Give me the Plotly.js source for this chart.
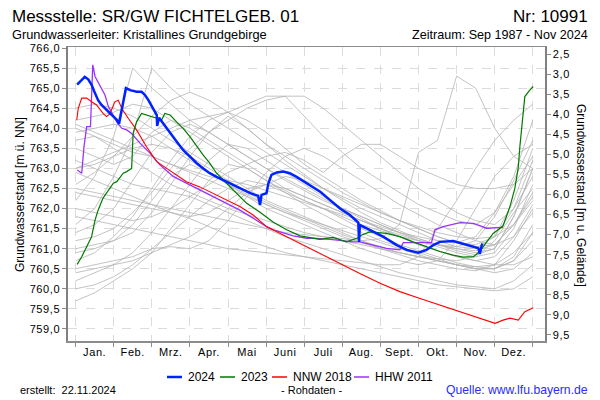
<!DOCTYPE html>
<html>
<head>
<meta charset="utf-8">
<script src="https://cdn.plot.ly/plotly-3.0.1.min.js"></script>
<style>
html,body{margin:0;padding:0;background:#fff;}
#chart{width:600px;height:400px;}
#chart .ytick text, #chart .y2tick text, #chart .xtick text { letter-spacing: 0.6px; }
</style>
</head>
<body>
<div id="chart"></div>
<script>
// ---- DATA (x in months since Jan 1, y in m ü. NN) ----
const monthLabels = ['Jan.','Feb.','Mrz.','Apr.','Mai','Juni','Juli','Aug.','Sept.','Okt.','Nov.','Dez.'];
const groundLevel = 768.35; // Geländehöhe (m ü. NN)

const x2024 = [0.04,0.24,0.33,0.42,0.51,0.59,0.68,0.81,0.94,1.08,1.14,1.21,1.29,1.32,1.43,1.60,1.73,1.82,1.91,2.04,2.13,2.14,2.19,2.30,2.48,2.65,2.82,3.00,3.18,3.35,3.52,3.70,3.87,4.05,4.23,4.40,4.57,4.71,4.79,4.84,4.88,5.01,5.06,5.14,5.28,5.45,5.62,5.80,5.97,6.15,6.42,6.68,6.94,7.20,7.29,7.42,7.44,7.46,7.72,8.07,8.43,8.69,8.99,9.21,9.39,9.56,9.91,10.17,10.44,10.57,10.61,10.66,10.68];
const y2024 = [765.09,765.28,765.22,765.08,764.87,764.70,764.58,764.46,764.33,764.21,764.11,764.46,764.95,765.00,764.95,764.91,764.91,764.83,764.70,764.50,764.33,764.06,764.26,764.12,763.88,763.67,763.46,763.29,763.13,763.00,762.88,762.79,762.71,762.63,762.54,762.46,762.39,762.34,762.32,762.09,762.34,762.38,762.63,762.84,762.90,762.92,762.88,762.79,762.69,762.59,762.42,762.21,762.00,761.84,761.76,761.65,761.17,761.59,761.47,761.30,761.09,760.97,760.90,760.97,761.09,761.17,761.19,761.13,761.05,761.01,760.87,761.09,761.13];

const x2023 = [0.04,0.16,0.29,0.42,0.51,0.59,0.72,0.86,0.99,1.08,1.25,1.34,1.47,1.51,1.60,1.73,1.86,2.04,2.17,2.26,2.34,2.48,2.65,2.82,3.00,3.18,3.35,3.52,3.70,3.96,4.23,4.49,4.84,5.19,5.54,5.89,6.41,6.76,7.11,7.38,7.51,7.72,8.16,8.51,8.86,9.21,9.56,9.91,10.17,10.44,10.61,10.79,10.96,11.22,11.40,11.53,11.62,11.66,11.71,11.75,11.79,11.92,12.01];
const y2023 = [760.61,760.80,761.05,761.30,761.71,761.96,762.26,762.46,762.63,762.67,762.88,762.92,763.00,763.88,764.16,764.37,764.33,764.29,764.25,764.21,764.37,764.33,764.16,764.00,763.79,763.54,763.33,763.13,762.88,762.63,762.38,762.13,761.91,761.66,761.47,761.32,761.23,761.28,761.17,761.26,761.34,761.42,761.38,761.30,761.17,761.05,760.93,760.84,760.79,760.80,760.93,761.17,761.38,761.57,762.05,762.51,763.04,763.54,764.04,764.46,764.79,764.95,765.04];

const xNNW2018 = [0.03,0.07,0.16,0.29,0.42,0.55,0.72,0.81,0.90,1.03,1.12,1.21,1.38,1.60,1.86,2.13,2.39,2.65,2.91,3.26,3.61,3.96,4.31,4.66,5.01,5.54,5.89,6.41,6.94,7.46,7.99,8.51,9.04,9.56,10.09,10.61,11.01,11.22,11.40,11.62,11.79,12.01];
const yNNW2018 = [764.21,764.50,764.75,764.75,764.66,764.58,764.37,764.29,764.36,764.66,764.70,764.50,764.25,763.96,763.54,763.17,763.00,762.84,762.67,762.54,762.38,762.21,762.05,761.84,761.55,761.30,761.13,760.88,760.63,760.38,760.14,759.93,759.76,759.60,759.43,759.27,759.14,759.22,759.27,759.22,759.43,759.53];

const xHHW2011 = [0.04,0.16,0.22,0.29,0.39,0.45,0.51,0.64,0.77,0.86,0.95,1.08,1.21,1.34,1.47,1.69,1.95,2.21,2.56,2.91,3.26,3.61,3.96,4.31,4.66,5.01,5.19,5.71,6.06,6.24,6.68,7.02,7.29,7.46,7.81,8.16,8.51,8.60,8.86,9.34,9.43,9.65,10.09,10.44,10.79,11.14,11.22];
const yHHW2011 = [762.96,762.88,763.54,764.04,764.04,765.58,765.29,765.04,764.83,764.54,764.37,764.16,764.00,763.96,763.87,763.63,763.38,763.09,762.80,762.63,762.46,762.30,762.13,761.96,761.76,761.55,761.47,761.32,761.26,761.26,761.23,761.19,761.17,761.17,761.09,761.01,760.97,761.15,761.15,761.15,761.47,761.55,761.65,761.63,761.51,761.52,761.53];

// other years (1987–2022), half-month sampling
const xOther = [0,0.5,1,1.5,2,2.5,3,3.5,4,4.5,5,5.5,6,6.5,7,7.5,8,8.5,9,9.5,10,10.5,11,11.5,12];
const yOther = [
 [764.5,764.6,764.5,764.3,764.0,763.7,763.4,763.1,762.8,762.5,762.2,762.0,761.8,761.6,761.4,761.2,761.0,760.85,760.7,760.6,760.5,760.45,760.6,761.2,762.0],
 [764.2,764.3,764.4,764.6,764.5,764.2,763.9,763.6,763.3,763.0,762.7,762.45,762.2,762.0,761.8,761.6,761.45,761.3,761.2,761.1,761.0,760.9,761.0,761.8,763.0],
 [763.9,764.0,764.1,764.0,763.8,763.5,763.2,762.9,762.6,762.35,762.1,761.9,761.7,761.5,761.3,761.15,761.0,760.9,760.8,760.7,760.6,760.5,760.5,760.7,761.4],
 [763.7,763.8,763.6,763.4,763.3,763.1,762.9,762.7,762.5,762.3,762.1,761.9,761.75,761.6,761.45,761.3,761.15,761.0,760.85,760.7,760.6,760.5,760.4,760.5,760.9],
 [763.5,763.3,763.1,763.3,763.9,764.2,764.0,763.7,763.4,763.1,762.8,762.5,762.3,762.1,761.9,761.7,761.5,761.35,761.2,761.1,761.05,761.2,761.8,762.7,763.7],
 [763.2,763.0,762.8,762.6,762.5,762.4,762.3,762.1,761.9,761.7,761.5,761.3,761.15,761.0,760.85,760.7,760.55,760.4,760.3,760.2,760.1,760.05,760.0,760.2,760.6],
 [762.9,762.7,762.5,762.3,762.1,761.9,761.75,761.55,761.35,761.2,761.05,760.9,760.8,760.7,760.6,760.5,760.4,760.3,760.2,760.1,760.05,760.0,759.95,760.0,760.3],
 [764.1,763.9,763.7,763.5,763.3,763.1,762.95,762.8,762.7,762.6,762.45,762.3,762.15,762.0,761.85,761.7,761.55,761.4,761.3,761.2,761.15,761.3,761.9,762.6,763.3],
 [760.7,760.9,761.3,761.8,762.5,763.2,763.8,764.2,764.4,764.2,763.9,763.5,763.1,762.8,762.5,762.2,761.95,761.7,761.5,761.3,761.15,761.1,761.3,762.2,763.5],
 [760.2,760.4,760.6,760.9,761.4,762.0,762.6,763.2,763.6,763.5,763.2,762.9,762.6,762.3,762.0,761.75,761.5,761.3,761.1,760.95,760.8,760.7,760.8,761.3,762.1],
 [759.7,759.9,760.2,760.5,760.9,761.5,762.1,762.7,763.1,763.0,762.7,762.4,762.1,761.85,761.6,761.4,761.2,761.05,760.9,760.75,760.6,760.5,760.5,760.8,761.6],
 [761.6,762.0,762.8,763.8,765.5,765.0,764.6,764.3,764.0,763.7,763.4,763.1,762.8,762.5,762.25,762.0,761.8,761.6,761.4,761.2,761.05,761.0,761.3,762.0,763.2],
 [762.2,762.8,763.8,765.5,765.0,764.6,764.2,763.9,763.6,763.3,763.0,762.75,762.5,762.25,762.0,761.8,761.6,761.4,761.2,761.05,760.9,760.8,760.9,761.5,762.6],
 [760.5,760.6,760.7,760.8,761.0,761.05,761.0,761.2,761.7,762.3,762.9,763.3,763.5,763.3,763.0,762.7,762.4,762.1,761.85,761.6,761.4,761.2,761.1,761.3,761.9],
 [761.2,761.3,761.5,761.9,762.4,763.0,763.5,763.9,764.2,764.5,764.7,764.8,764.8,764.5,764.1,763.7,763.3,762.9,762.5,762.2,761.9,761.7,761.6,762.0,762.8],
 [760.0,760.1,760.3,760.6,761.0,761.4,761.8,762.2,762.5,762.7,762.6,762.4,762.2,762.0,761.75,761.5,761.3,761.1,760.95,760.8,760.65,760.55,760.5,760.7,761.2],
 [761.0,761.1,761.2,761.4,761.9,762.6,763.3,763.9,764.3,764.0,763.6,763.2,762.85,762.5,762.2,761.9,761.65,761.45,761.25,761.1,760.95,760.85,761.0,761.8,763.0],
 [762.6,762.9,763.3,763.8,764.3,764.7,764.9,764.7,764.4,764.0,763.6,763.3,763.0,762.7,762.4,762.15,761.9,761.7,761.5,761.3,761.15,761.05,761.1,761.6,762.4],
 [762.5,762.4,762.3,762.2,762.1,762.0,761.9,761.8,761.7,761.6,761.5,761.4,761.35,761.3,761.25,761.2,761.25,761.6,763.4,763.7,765.3,765.0,764.0,763.3,763.0],
 [762.0,761.9,761.8,761.7,761.8,762.0,762.3,762.6,762.9,763.1,763.3,763.4,763.2,762.9,763.3,763.6,763.6,763.3,763.0,762.8,762.6,762.5,762.5,762.6,763.0],
 [763.0,763.2,763.4,763.6,763.8,764.0,764.2,764.3,764.4,764.6,764.8,764.8,764.3,763.8,763.4,763.0,762.7,762.4,762.1,761.9,761.7,761.6,761.9,762.8,764.2],
 [761.8,761.7,761.6,761.5,761.4,761.3,761.2,761.1,761.0,760.95,760.9,760.85,760.8,760.75,760.7,760.65,760.6,760.6,760.8,761.5,762.2,763.0,763.7,764.2,764.6],
 [760.9,761.0,761.2,761.6,762.2,762.8,763.1,762.9,762.6,762.3,762.0,761.8,761.6,761.4,761.2,761.0,760.85,760.7,760.6,760.7,761.2,762.0,762.8,763.3,763.6],
 [763.0,763.1,763.3,763.5,763.6,763.5,763.3,763.0,762.7,762.4,762.15,761.95,761.75,761.55,761.35,761.2,761.05,760.9,760.8,760.7,760.6,760.55,760.6,760.9,761.4],
 [764.0,763.8,763.5,763.2,762.9,762.6,762.4,762.2,762.0,761.85,761.7,761.55,761.4,761.3,761.2,761.1,761.0,760.9,760.8,760.75,760.7,760.8,761.2,761.9,762.5],
 [760.4,760.5,760.6,760.7,760.9,761.1,761.3,761.6,762.0,762.4,762.6,762.5,762.3,762.1,761.9,761.7,761.5,761.3,761.1,760.95,760.8,760.7,760.6,760.6,760.8],
 [761.4,761.6,762.0,762.7,763.4,763.9,764.1,763.9,763.6,763.3,763.0,762.7,762.45,762.2,762.0,761.8,761.6,761.4,761.25,761.1,761.0,760.95,761.1,761.6,762.3],
 [762.4,762.3,762.2,762.1,762.0,761.9,761.8,761.9,762.2,762.5,762.6,762.8,762.7,762.5,762.3,762.1,761.9,761.7,761.55,761.4,761.3,761.25,761.3,761.6,762.2]
];

const leftTicks = [759,759.5,760,760.5,761,761.5,762,762.5,763,763.5,764,764.5,765,765.5,766];
const rightTicks = [2.5,3,3.5,4,4.5,5,5.5,6,6.5,7,7.5,8,8.5,9,9.5];

const legendNames = ['2024', '2023', 'NNW 2018', 'HHW 2011'];
const legendColors = ['#0022ff', '#007a00', '#ff0000', '#9933ff'];

// ---- LAYOUT GEOMETRY ----
const L = 68, R = 545, T = 47, B = 341;
const W = 600, H = 400;
const pxX = x => (x - L) / (R - L);
const pxY = y => (B - y) / (B - T);
const FONT = 'Liberation Sans, Arial, sans-serif';
const legendLineStart = [167, 220, 272, 354]; // pixel positions of legend entries
const legendRowY = 377;

const yLow = 758.70, yHigh = 766.025;

const traces = [];
yOther.forEach(function (ys) {
  traces.push({x: xOther, y: ys, type: 'scatter', mode: 'lines',
    line: {color: '#b4b4b4', width: 0.8}, showlegend: false, hoverinfo: 'skip'});
});
traces.push({x: xHHW2011, y: yHHW2011, name: 'HHW 2011', type: 'scatter', mode: 'lines',
  line: {color: legendColors[3], width: 1.3}, showlegend: false});
traces.push({x: xNNW2018, y: yNNW2018, name: 'NNW 2018', type: 'scatter', mode: 'lines',
  line: {color: legendColors[2], width: 1.1}, showlegend: false});
traces.push({x: x2023, y: y2023, name: '2023', type: 'scatter', mode: 'lines',
  line: {color: legendColors[1], width: 1.2}, showlegend: false});
traces.push({x: x2024, y: y2024, name: '2024', type: 'scatter', mode: 'lines',
  line: {color: legendColors[0], width: 2.5}, showlegend: false});
// invisible helper on the right axis so it is drawn
traces.push({x: [null], y: [null], yaxis: 'y2', showlegend: false, hoverinfo: 'skip', mode: 'lines'});

const monthCenters = monthLabels.map((m, i) => i + 0.5);
const monthBounds = Array.from({length: 13}, (_, i) => i);

const ann = (text, x, y, xa, extra) => Object.assign({
  text: text, xref: 'paper', yref: 'paper', x: pxX(x), y: pxY(y),
  xanchor: xa, yanchor: 'middle', showarrow: false,
  font: {family: FONT, size: 11, color: '#000'}
}, extra || {});

const annotations = [
  ann('Messstelle: SR/GW FICHTELGEB. 01', 10, 16, 'left', {font: {family: FONT, size: 17, color: '#000'}}),
  ann('Nr: 10991', 590, 16, 'right', {font: {family: FONT, size: 17, color: '#000'}}),
  ann('Grundwasserleiter: Kristallines Grundgebirge', 10, 35, 'left', {font: {family: FONT, size: 12.8, color: '#000'}}),
  ann('Zeitraum: Sep 1987 - Nov 2024', 590, 35, 'right', {font: {family: FONT, size: 12.6, color: '#000'}}),
  ann('Grundwasserstand [m ü. NN]', 20, 195, 'center', {textangle: -90, font: {family: FONT, size: 12, color: '#000'}}),
  ann('Grundwasserstand [m u. Gelände]', 581, 195, 'center', {textangle: 90, font: {family: FONT, size: 12, color: '#000'}}),
  ann('erstellt:\u00a0 22.11.2024', 18, 390, 'left'),
  ann('- Rohdaten -', 311, 390, 'center'),
  ann('Quelle: www.lfu.bayern.de', 590, 390, 'right', {font: {family: FONT, size: 12.2, color: '#2b2bff'}})
];
const shapes = [];
legendNames.forEach(function (name, i) {
  const x0 = legendLineStart[i];
  shapes.push({type: 'line', xref: 'paper', yref: 'paper', x0: pxX(x0), x1: pxX(x0 + 15),
    y0: pxY(legendRowY), y1: pxY(legendRowY), line: {color: legendColors[i], width: i === 0 ? 2.5 : 1.5}});
  annotations.push(ann(name, x0 + 19, legendRowY, 'left', {font: {family: FONT, size: 12, color: '#000'}}));
});

const layout = {
  width: W, height: H,
  margin: {l: L, r: W - R, t: T, b: H - B, pad: 0},
  paper_bgcolor: '#fff', plot_bgcolor: '#fff',
  separators: ',.',
  font: {family: FONT, size: 11, color: '#000'},
  showlegend: false,
  xaxis: {
    range: [-0.2, 12.32], tickmode: 'array', tickvals: monthCenters, ticktext: monthLabels,
    ticks: '', showgrid: false, zeroline: false,
    showline: true, linecolor: '#8c8c8c', linewidth: 1.5, mirror: true,
    tickfont: {family: FONT, size: 11, color: '#000'},
    minor: {tickmode: 'array', tickvals: monthBounds, ticks: 'outside', ticklen: 4, tickcolor: '#8c8c8c',
      showgrid: true, gridcolor: '#dcdcdc', griddash: 'dash', gridwidth: 1}
  },
  yaxis: {
    range: [yLow, yHigh], tickmode: 'array', tickvals: leftTicks, tickformat: '.1f',
    ticks: 'outside', ticklen: 4, tickcolor: '#8c8c8c', showgrid: true, gridcolor: '#dcdcdc',
    griddash: 'dash', zeroline: false, showline: true, linecolor: '#808080', linewidth: 1.6,
    tickfont: {family: FONT, size: 11, color: '#000'}
  },
  yaxis2: {
    overlaying: 'y', side: 'right', anchor: 'x',
    range: [groundLevel - yLow, groundLevel - yHigh], tickmode: 'array', tickvals: rightTicks, tickformat: '.1f',
    ticks: 'outside', ticklen: 4, tickcolor: '#8c8c8c', showgrid: false, zeroline: false,
    showline: true, linecolor: '#808080', linewidth: 1.6,
    tickfont: {family: FONT, size: 11, color: '#000'}
  },
  shapes: shapes,
  annotations: annotations
};

Plotly.newPlot('chart', traces, layout, {staticPlot: true, displayModeBar: false});
</script>
</body>
</html>
